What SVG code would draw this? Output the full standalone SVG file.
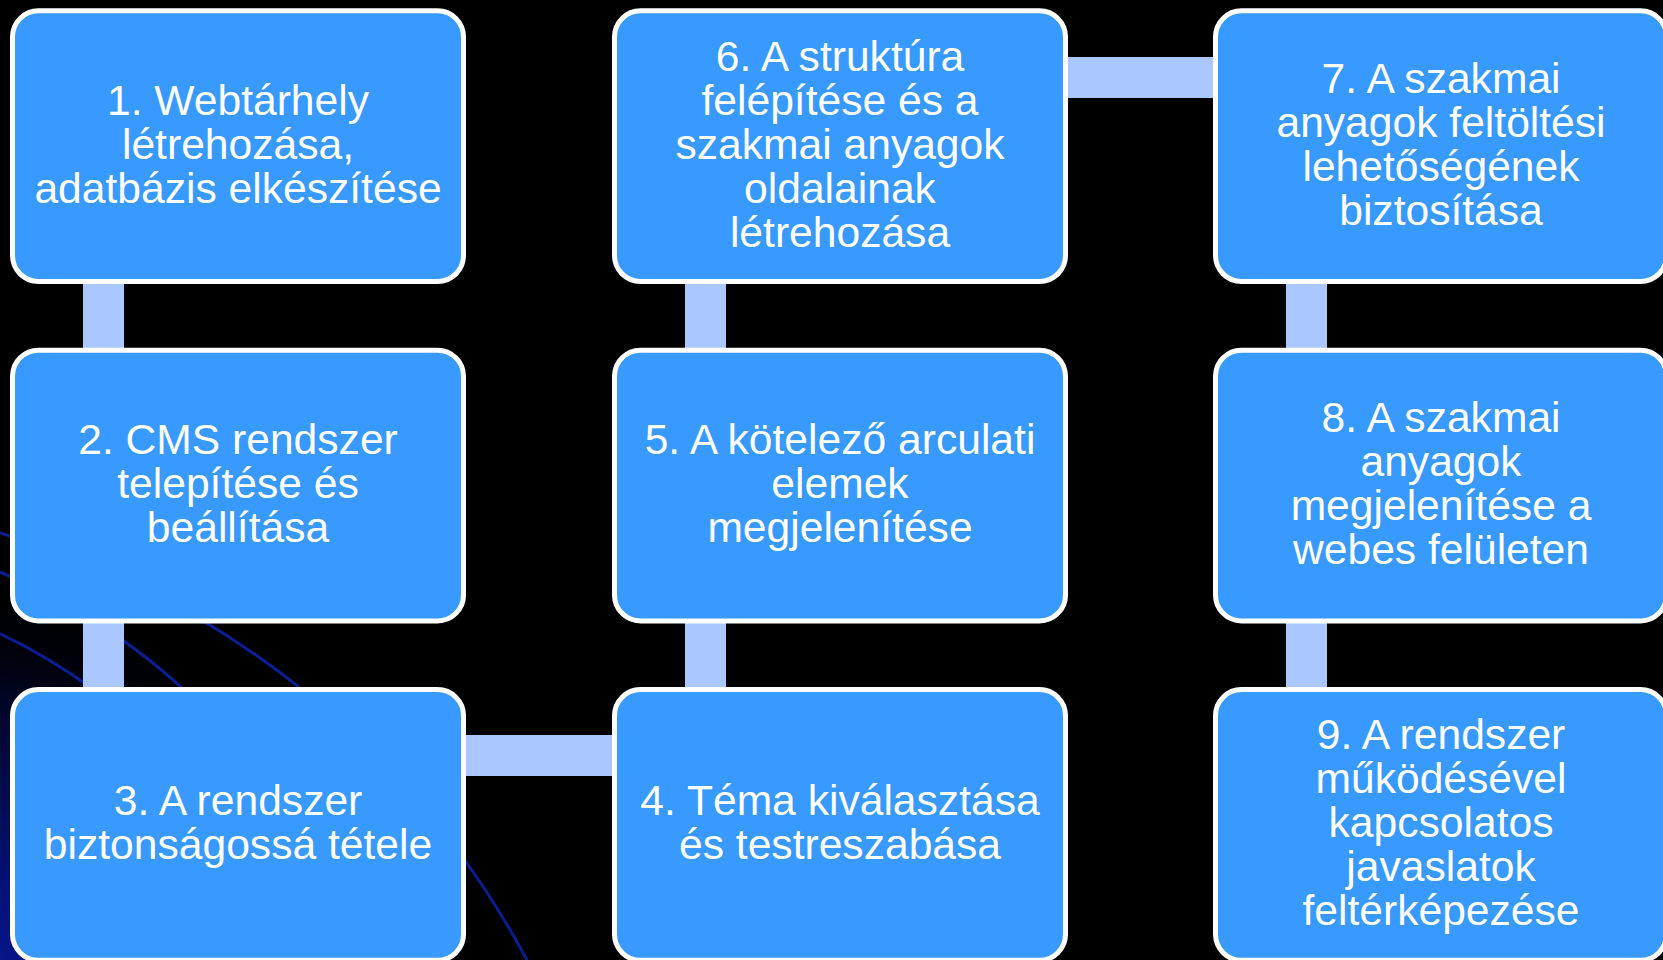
<svg xmlns="http://www.w3.org/2000/svg" width="1663" height="960" viewBox="0 0 1663 960">
  <defs>
    <radialGradient id="glow" cx="-60" cy="1010" r="430" gradientUnits="userSpaceOnUse">
      <stop offset="0" stop-color="#0A1CA0"/>
      <stop offset="0.35" stop-color="#031072"/>
      <stop offset="0.75" stop-color="#000522"/>
      <stop offset="1" stop-color="#000000" stop-opacity="0"/>
    </radialGradient>
    <style>
      .box { fill: #3899FE; stroke: #FFFFFF; stroke-width: 5; }
      .conn { fill: #AAC8FF; }
      .arc { fill: none; stroke: #0A1E90; stroke-width: 3; }
      .lbl { font-family: "Liberation Sans", Arial, sans-serif; font-size: 42.6px; fill: #FFFFFF; text-anchor: middle; }
    </style>
  </defs>

  <g id="background">
    <rect x="0" y="0" width="1663" height="960" fill="#000000"/>
    <rect x="0" y="500" width="620" height="460" fill="url(#glow)"/>
    <path class="arc" d="M 0 533 A 873 873 0 0 1 527 960"/>
    <path class="arc" d="M 0 572 A 643 643 0 0 1 360 960"/>
    <path class="arc" d="M 0 633.6 A 600 600 0 0 1 300 960"/>
  </g>

  <g id="connectors">
    <rect class="conn" x="83" y="278" width="41" height="74"/>
    <rect class="conn" x="83" y="618" width="41" height="74"/>
    <rect class="conn" x="462" y="735" width="155" height="41"/>
    <rect class="conn" x="685" y="618" width="41" height="74"/>
    <rect class="conn" x="685" y="278" width="41" height="74"/>
    <rect class="conn" x="1063" y="57" width="155" height="41"/>
    <rect class="conn" x="1286" y="278" width="41" height="74"/>
    <rect class="conn" x="1286" y="618" width="41" height="74"/>
  </g>

  <g id="node1">
    <rect class="box" x="12.5" y="10.8" width="451" height="270.7" rx="26"/>
    <text class="lbl"><tspan x="238" y="114.7">1. Webtárhely</tspan><tspan x="238" y="158.7">létrehozása,</tspan><tspan x="238" y="202.7">adatbázis elkészítése</tspan></text>
  </g>
  <g id="node2">
    <rect class="box" x="12.5" y="350.2" width="451" height="270.7" rx="26"/>
    <text class="lbl"><tspan x="238" y="454.1">2. CMS rendszer</tspan><tspan x="238" y="498.1">telepítése és</tspan><tspan x="238" y="542.1">beállítása</tspan></text>
  </g>
  <g id="node3">
    <rect class="box" x="12.5" y="689.6" width="451" height="270.7" rx="26"/>
    <text class="lbl"><tspan x="238" y="815.4">3. A rendszer</tspan><tspan x="238" y="859.4">biztonságossá tétele</tspan></text>
  </g>
  <g id="node4">
    <rect class="box" x="614.5" y="689.6" width="451" height="270.7" rx="26"/>
    <text class="lbl"><tspan x="840" y="815.4">4. Téma kiválasztása</tspan><tspan x="840" y="859.4">és testreszabása</tspan></text>
  </g>
  <g id="node5">
    <rect class="box" x="614.5" y="350.2" width="451" height="270.7" rx="26"/>
    <text class="lbl"><tspan x="840" y="454.1">5. A kötelező arculati</tspan><tspan x="840" y="498.1">elemek</tspan><tspan x="840" y="542.1">megjelenítése</tspan></text>
  </g>
  <g id="node6">
    <rect class="box" x="614.5" y="10.8" width="451" height="270.7" rx="26"/>
    <text class="lbl"><tspan x="840" y="70.7">6. A struktúra</tspan><tspan x="840" y="114.7">felépítése és a</tspan><tspan x="840" y="158.7">szakmai anyagok</tspan><tspan x="840" y="202.7">oldalainak</tspan><tspan x="840" y="246.7">létrehozása</tspan></text>
  </g>
  <g id="node7">
    <rect class="box" x="1215.5" y="10.8" width="451" height="270.7" rx="26"/>
    <text class="lbl"><tspan x="1441" y="92.7">7. A szakmai</tspan><tspan x="1441" y="136.7">anyagok feltöltési</tspan><tspan x="1441" y="180.7">lehetőségének</tspan><tspan x="1441" y="224.7">biztosítása</tspan></text>
  </g>
  <g id="node8">
    <rect class="box" x="1215.5" y="350.2" width="451" height="270.7" rx="26"/>
    <text class="lbl"><tspan x="1441" y="432.1">8. A szakmai</tspan><tspan x="1441" y="476.1">anyagok</tspan><tspan x="1441" y="520.1">megjelenítése a</tspan><tspan x="1441" y="564.1">webes felületen</tspan></text>
  </g>
  <g id="node9">
    <rect class="box" x="1215.5" y="689.6" width="451" height="270.7" rx="26"/>
    <text class="lbl"><tspan x="1441" y="749.4">9. A rendszer</tspan><tspan x="1441" y="793.4">működésével</tspan><tspan x="1441" y="837.4">kapcsolatos</tspan><tspan x="1441" y="881.4">javaslatok</tspan><tspan x="1441" y="925.4">feltérképezése</tspan></text>
  </g>
</svg>
